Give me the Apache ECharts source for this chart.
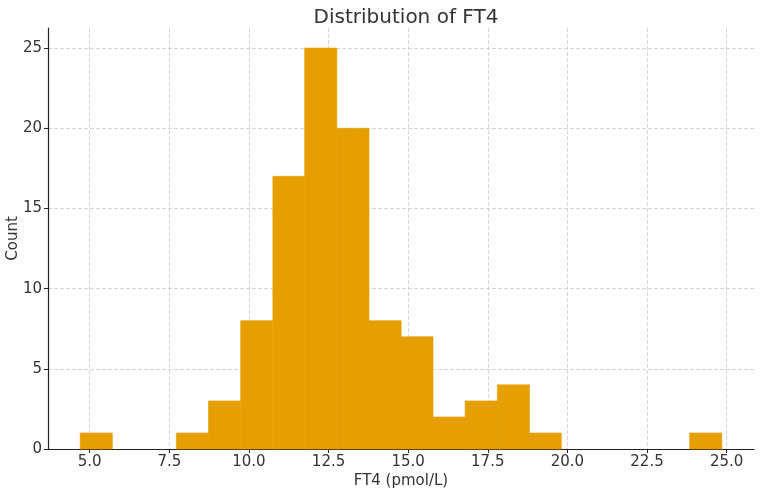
<!DOCTYPE html>
<html>
<head>
<meta charset="utf-8">
<script src="https://cdn.jsdelivr.net/npm/echarts@6/dist/echarts.min.js"></script>
<style>
  html, body { margin: 0; padding: 0; background: #fff; }
  #chart { width: 760px; height: 492px; }
</style>
</head>
<body>
<div id="chart"></div>
<script>
// 直方图分箱边界 (pmol/L) 与频数
const binEdges = [4.70, 5.71, 6.72, 7.72, 8.73, 9.74, 10.75, 11.75, 12.76, 13.77, 14.78,
                  15.78, 16.79, 17.80, 18.81, 19.81, 20.82, 21.83, 22.83, 23.84, 24.85];
const counts = [1, 0, 0, 1, 3, 8, 17, 25, 20, 8, 7, 2, 3, 4, 1, 0, 0, 0, 0, 1];
const xTicks = [5.0, 7.5, 10.0, 12.5, 15.0, 17.5, 20.0, 22.5, 25.0];
const yTicks = [0, 5, 10, 15, 20, 25];

const barData = counts.map((c, i) => [binEdges[i], binEdges[i + 1], c]);

const font = 'DejaVu Sans';
const chart = echarts.init(document.getElementById('chart'));

chart.setOption({
    animation: false,
    title: {
        text: 'Distribution of FT4',
        left: 401, top: 3, textAlign: 'center',
        textStyle: { fontFamily: font, fontSize: 20, fontWeight: 'normal', color: '#333' }
    },
    grid: { left: 48, right: 6, top: 28, bottom: 43, containLabel: false, outerBoundsMode: 'none' },
    xAxis: {
        type: 'value', min: 3.69, max: 25.86,
        name: 'FT4 (pmol/L)', nameLocation: 'middle', nameGap: 25, nameMoveOverlap: false,
        nameTextStyle: { fontFamily: font, fontSize: 15, color: '#333' },
        axisLine: { lineStyle: { color: '#222', width: 1.2 } },
        axisTick: { show: true, length: 4, lineStyle: { color: '#222' }, customValues: xTicks },
        axisLabel: {
            customValues: xTicks, fontFamily: font, fontSize: 15, color: '#333', margin: 6,
            formatter: v => v.toFixed(1)
        },
        splitLine: { show: true, lineStyle: { color: '#ccc', type: [4, 2], width: 0.8 } }
    },
    yAxis: {
        type: 'value', min: 0, max: 26.25, interval: 5,
        name: 'Count', nameLocation: 'middle', nameGap: 27, nameMoveOverlap: false,
        nameTextStyle: { fontFamily: font, fontSize: 15, color: '#333' },
        axisLine: { show: true, lineStyle: { color: '#222', width: 1.2 } },
        axisTick: { show: true, length: 4, lineStyle: { color: '#222' }, customValues: yTicks },
        axisLabel: { customValues: yTicks, fontFamily: font, fontSize: 15, color: '#333', margin: 6 },
        splitLine: { show: true, lineStyle: { color: '#ccc', type: [4, 2], width: 0.8 } }
    },
    series: [{
        type: 'custom',
        data: barData,
        encode: { x: [0, 1], y: 2 },
        renderItem: (params, api) => {
            if (!api.value(2)) return null;
            const p0 = api.coord([api.value(0), 0]);
            const p1 = api.coord([api.value(1), api.value(2)]);
            return {
                type: 'rect',
                shape: { x: p0[0], y: p1[1], width: p1[0] - p0[0], height: p0[1] - p1[1] },
                style: { fill: '#E69F00', stroke: '#E69F00', lineWidth: 0.6 }
            };
        }
    }]
});
</script>
</body>
</html>
